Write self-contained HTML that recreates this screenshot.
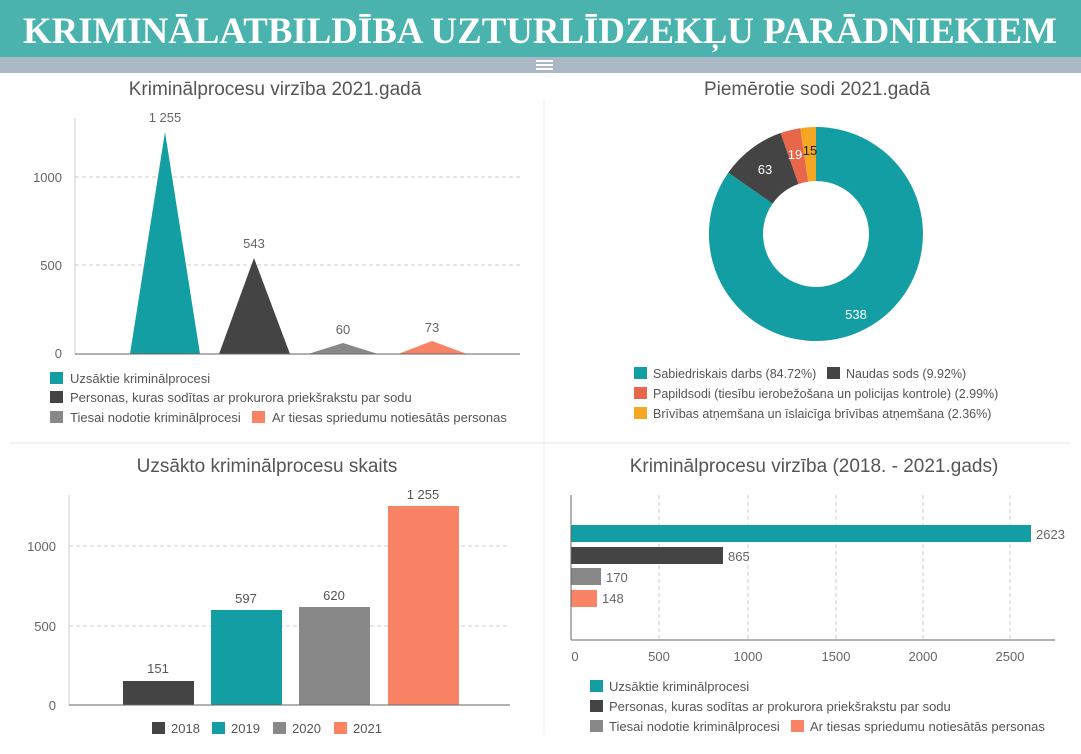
<!DOCTYPE html>
<html><head><meta charset="utf-8"><style>
html,body{margin:0;padding:0;background:#fff;}
svg{display:block;font-family:"Liberation Sans",sans-serif;}
</style></head><body>
<svg width="1081" height="754" viewBox="0 0 1081 754">
<rect x="0" y="0" width="1081" height="57" fill="#4ab3ad"/>
<rect x="0" y="57" width="1081" height="16" fill="#a9b8c4"/>
<text x="540" y="43" text-anchor="middle" font-family="Liberation Serif,serif" font-weight="bold" font-size="37" fill="#fff" textLength="1034" lengthAdjust="spacingAndGlyphs">KRIMINĀLATBILDĪBA UZTURLĪDZEKĻU PARĀDNIEKIEM</text>
<g fill="#fff"><rect x="536" y="60" width="17" height="2"/><rect x="536" y="64" width="17" height="2"/><rect x="536" y="68" width="17" height="2"/></g>
<line x1="544" y1="100" x2="544" y2="735" stroke="#eee"/>
<line x1="10" y1="443" x2="1070" y2="443" stroke="#e4e4e4"/>
<g font-size="19" fill="#555" text-anchor="middle">
<text x="275" y="95">Kriminālprocesu virzība 2021.gadā</text>
<text x="817" y="95">Piemērotie sodi 2021.gadā</text>
<text x="267" y="472">Uzsākto kriminālprocesu skaits</text>
<text x="814" y="472">Kriminālprocesu virzība (2018. - 2021.gads)</text>
</g>
<!-- chart 1 -->
<g stroke="#ccc" stroke-dasharray="4,3"><line x1="75" y1="177" x2="520" y2="177"/><line x1="75" y1="265" x2="520" y2="265"/></g>
<line x1="75" y1="118" x2="75" y2="354" stroke="#ccc"/>
<g font-size="13" fill="#666" text-anchor="end"><text x="62" y="182">1000</text><text x="62" y="270">500</text><text x="62" y="358">0</text></g>
<polygon points="130,354 165,132 200,354" fill="#129ea2"/>
<polygon points="219,354 254,258 290,354" fill="#444"/>
<polygon points="308,354 343,343 378,354" fill="#888"/>
<polygon points="398,354 432,341 467,354" fill="#f98465"/>
<line x1="75" y1="354" x2="520" y2="354" stroke="#666"/>
<g font-size="13" fill="#666" text-anchor="middle"><text x="165" y="122">1 255</text><text x="254" y="248">543</text><text x="343" y="334">60</text><text x="432" y="332">73</text></g>
<g font-size="13" fill="#555">
<rect x="50" y="372" width="13" height="12" fill="#129ea2"/><text x="70" y="383">Uzsāktie kriminālprocesi</text>
<rect x="50" y="391" width="13" height="12" fill="#444"/><text x="70" y="402">Personas, kuras sodītas ar prokurora priekšrakstu par sodu</text>
<rect x="50" y="411" width="13" height="12" fill="#888"/><text x="70" y="422">Tiesai nodotie kriminālprocesi</text>
<rect x="252" y="411" width="13" height="12" fill="#f98465"/><text x="272" y="422">Ar tiesas spriedumu notiesātās personas</text>
</g>
<!-- donut -->
<path d="M816,127 A107,107 0 1 1 728.3,172.6 L772.6,203.6 A53,53 0 1 0 816,181 Z" fill="#129ea2"/>
<path d="M728.3,172.6 A107,107 0 0 1 780.6,133 L798.5,184 A53,53 0 0 0 772.6,203.6 Z" fill="#444"/>
<path d="M780.6,133 A107,107 0 0 1 800.2,128.2 L808.2,181.6 A53,53 0 0 0 798.5,184 Z" fill="#e8664a"/>
<path d="M800.2,128.2 A107,107 0 0 1 816,127 L816,181 A53,53 0 0 0 808.2,181.6 Z" fill="#f5a623"/>
<g font-size="13" text-anchor="middle"><text x="765" y="174" fill="#fff">63</text><text x="795" y="159" fill="#fff">19</text><text x="810" y="155" fill="#222">15</text><text x="856" y="319" fill="#fff">538</text></g>
<g font-size="12.5" fill="#555">
<rect x="634" y="367" width="13" height="12" fill="#129ea2"/><text x="653" y="378">Sabiedriskais darbs (84.72%)</text>
<rect x="827" y="367" width="13" height="12" fill="#444"/><text x="846" y="378">Naudas sods (9.92%)</text>
<rect x="634" y="387" width="13" height="12" fill="#e8664a"/><text x="653" y="398">Papildsodi (tiesību ierobežošana un policijas kontrole) (2.99%)</text>
<rect x="634" y="407" width="13" height="12" fill="#f5a623"/><text x="653" y="418">Brīvības atņemšana un īslaicīga brīvības atņemšana (2.36%)</text>
</g>
<!-- chart 3 -->
<g stroke="#ccc" stroke-dasharray="4,3"><line x1="69" y1="546" x2="510" y2="546"/><line x1="69" y1="626" x2="510" y2="626"/></g>
<line x1="69" y1="495" x2="69" y2="705" stroke="#ccc"/>
<g font-size="13" fill="#666" text-anchor="end"><text x="56" y="551">1000</text><text x="56" y="631">500</text><text x="56" y="710">0</text></g>
<rect x="123" y="681" width="71" height="24" fill="#444"/>
<rect x="211" y="610" width="71" height="95" fill="#129ea2"/>
<rect x="299" y="607" width="71" height="98" fill="#888"/>
<rect x="388" y="506" width="71" height="199" fill="#f98465"/>
<line x1="69" y1="705" x2="510" y2="705" stroke="#666"/>
<g font-size="13" fill="#555" text-anchor="middle"><text x="158" y="673">151</text><text x="246" y="603">597</text><text x="334" y="600">620</text><text x="423" y="499">1 255</text></g>
<g font-size="13" fill="#555">
<rect x="152" y="722" width="13" height="12" fill="#444"/><text x="171" y="733">2018</text>
<rect x="212" y="722" width="13" height="12" fill="#129ea2"/><text x="231" y="733">2019</text>
<rect x="273" y="722" width="13" height="12" fill="#888"/><text x="292" y="733">2020</text>
<rect x="334" y="722" width="13" height="12" fill="#f98465"/><text x="353" y="733">2021</text>
</g>
<!-- chart 4 -->
<g stroke="#ccc" stroke-dasharray="4,3"><line x1="659" y1="495" x2="659" y2="640"/><line x1="748" y1="495" x2="748" y2="640"/><line x1="836" y1="495" x2="836" y2="640"/><line x1="923" y1="495" x2="923" y2="640"/><line x1="1010" y1="495" x2="1010" y2="640"/></g>
<rect x="571" y="525" width="460" height="17" fill="#129ea2"/>
<rect x="571" y="547" width="152" height="17" fill="#444"/>
<rect x="571" y="568" width="30" height="17" fill="#888"/>
<rect x="571" y="590" width="26" height="17" fill="#f98465"/>
<line x1="571" y1="495" x2="571" y2="640" stroke="#666"/>
<line x1="571" y1="640" x2="1055" y2="640" stroke="#666"/>
<g font-size="13" fill="#666"><text x="1036" y="539">2623</text><text x="728" y="561">865</text><text x="606" y="582">170</text><text x="602" y="603">148</text></g>
<g font-size="13" fill="#666" text-anchor="middle"><text x="575" y="661">0</text><text x="659" y="661">500</text><text x="748" y="661">1000</text><text x="836" y="661">1500</text><text x="923" y="661">2000</text><text x="1010" y="661">2500</text></g>
<g font-size="13" fill="#555">
<rect x="590" y="680" width="13" height="12" fill="#129ea2"/><text x="609" y="691">Uzsāktie kriminālprocesi</text>
<rect x="590" y="700" width="13" height="12" fill="#444"/><text x="609" y="711">Personas, kuras sodītas ar prokurora priekšrakstu par sodu</text>
<rect x="590" y="720" width="13" height="12" fill="#888"/><text x="609" y="731">Tiesai nodotie kriminālprocesi</text>
<rect x="791" y="720" width="13" height="12" fill="#f98465"/><text x="810" y="731">Ar tiesas spriedumu notiesātās personas</text>
</g>
</svg>
</body></html>
